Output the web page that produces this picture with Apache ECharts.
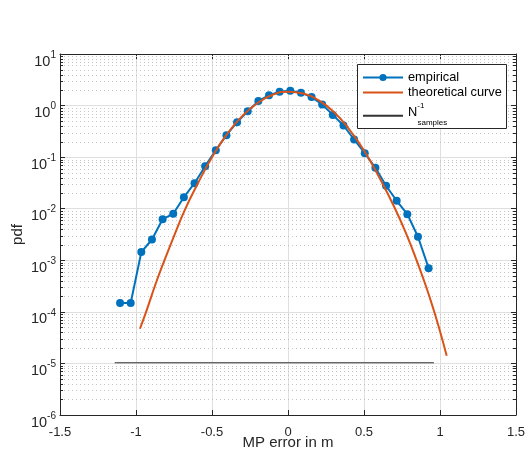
<!DOCTYPE html>
<html><head><meta charset="utf-8">
<script src="https://cdn.jsdelivr.net/npm/echarts@6/dist/echarts.min.js"></script>
<style>html,body{margin:0;padding:0;background:#fff}#c{width:527px;height:457px}</style>
</head><body><div id="c"></div>
<script>
// ---- data ----
const empX = [-1.105, -1.035, -0.965, -0.895, -0.825, -0.755, -0.685, -0.615, -0.545, -0.475,
              -0.405, -0.335, -0.265, -0.195, -0.125, -0.055, 0.015, 0.085, 0.155, 0.225,
              0.295, 0.365, 0.435, 0.505, 0.575, 0.645, 0.715, 0.785, 0.855, 0.925];
const empY = [1.48e-4, 1.48e-4, 1.44e-3, 2.53e-3, 6.27e-3, 7.97e-3, 0.0167, 0.0313, 0.0668, 0.136,
              0.267, 0.477, 0.778, 1.22, 1.59, 1.85, 1.94, 1.78, 1.46, 1.05,
              0.66, 0.411, 0.22, 0.119, 0.0622, 0.0279, 0.01426, 0.00783, 0.00286, 7.03e-4];
const theoX = [-0.974, -0.93, -0.87, -0.81, -0.75, -0.68, -0.6, -0.5, -0.4, -0.3, -0.2, -0.1, 0,
               0.1, 0.2, 0.3, 0.4, 0.5, 0.6, 0.7, 0.78, 0.85, 0.91, 0.96, 1.0, 1.044];
const theoY = [4.7e-5, 1.07e-4, 3.55e-4, 1.05e-3, 2.95e-3, 9.3e-3, 0.0282, 0.1, 0.282, 0.631, 1.12, 1.62, 1.86,
               1.72, 1.27, 0.759, 0.355, 0.135, 0.0407, 0.0107, 3.16e-3, 9.3e-4, 3.0e-4, 1.05e-4, 4.2e-5, 1.41e-5];
const nX = [-1.14, 0.96];
const nY = [1.03e-5, 1.03e-5];
const xTickLabels = ['-1.5', '-1', '-0.5', '0', '0.5', '1', '1.5'];
const yDecades = [-6, -5, -4, -3, -2, -1, 0];
const minorMult = [2, 3, 4, 5, 6, 7, 8, 9];

const minorVals = [];
yDecades.forEach(d => minorMult.forEach(m => minorVals.push(m * Math.pow(10, d))));

const FONT = "'Liberation Sans', Arial, Helvetica, sans-serif";
const AX = '#262626';
const zip = (a, b) => a.map((v, i) => [v, b[i]]);
const noSym = {color: 'rgba(0,0,0,0)', borderWidth: 0, opacity: 0};

const chart = echarts.init(document.getElementById('c'), null, {renderer: 'canvas'});
chart.setOption({
  animation: false,
  backgroundColor: '#fff',
  textStyle: {fontFamily: FONT},
  grid: {left: 60, top: 54, width: 456, height: 361, containLabel: false, outerBoundsMode: 'none'},
  graphic: [{
    type: 'rect', z: 90, silent: true,
    shape: {x: 357.5, y: 64.5, width: 149, height: 64},
    style: {fill: '#fff', stroke: AX, lineWidth: 1}
  }],
  legend: [{
    orient: 'vertical', left: 362, top: 70, padding: 0, z: 100,
    itemWidth: 40, itemHeight: 9, itemGap: 0,
    textStyle: {fontSize: 12.8, lineHeight: 15, color: '#000', fontFamily: FONT},
    data: ['empirical', {name: 'theoretical curve', itemStyle: noSym}]
  }, {
    orient: 'vertical', left: 362, top: 102, padding: 0, z: 100,
    itemWidth: 40, itemHeight: 9, itemGap: 0,
    textStyle: {fontSize: 12.8, color: '#000', fontFamily: FONT,
      rich: {
        n: {fontSize: 12.8, lineHeight: 12.4, fontFamily: FONT, color: '#000', verticalAlign: 'bottom'},
        sup: {fontSize: 8, fontFamily: FONT, color: '#000', verticalAlign: 'top', padding: [0, 0, 8.7, 0]},
        pad: {width: 9.5, fontSize: 8},
        sub: {fontSize: 8, lineHeight: 10.9, fontFamily: FONT, color: '#000', verticalAlign: 'top'}
      }},
    data: [{name: 'Nsamples', itemStyle: noSym}],
    formatter: () => '{n|N}{sup|-1}\n{pad| }{sub|samples}'
  }],
  xAxis: [{
    type: 'value', min: -1.5, max: 1.5, interval: 0.5, position: 'bottom',
    axisLine: {show: true, onZero: false, lineStyle: {color: AX, width: 1}},
    axisTick: {show: true, inside: true, length: 5, lineStyle: {color: AX}},
    axisLabel: {color: AX, fontSize: 13, margin: 11, fontFamily: FONT,
      formatter: v => xTickLabels[Math.round((v + 1.5) / 0.5)]},
    splitLine: {show: true, lineStyle: {color: '#dfdfdf', width: 1}},
    name: 'MP error in m', nameLocation: 'middle', nameGap: 20, nameMoveOverlap: false,
    nameTextStyle: {fontSize: 15, color: AX, fontFamily: FONT}
  }, {
    type: 'value', min: -1.5, max: 1.5, interval: 0.5, position: 'top',
    axisLine: {show: true, onZero: false, lineStyle: {color: AX, width: 1}},
    axisTick: {show: true, inside: true, length: 5, lineStyle: {color: AX}},
    axisLabel: {show: false}, splitLine: {show: false}
  }],
  yAxis: [{
    type: 'log', logBase: 10, min: 1e-6, max: 10, position: 'left',
    axisLine: {show: true, onZero: false, lineStyle: {color: AX, width: 1}},
    axisTick: {show: true, inside: true, length: 5, lineStyle: {color: AX}},
    splitLine: {show: true, lineStyle: {color: '#dfdfdf', width: 1}},
    axisLabel: {
      color: AX, margin: 4, fontFamily: FONT, padding: [11, 0, 0, 0],
      formatter: v => '{b|10}{e|' + Math.round(Math.log10(v)) + '}',
      rich: {
        b: {fontSize: 14.5, color: AX, fontFamily: FONT, verticalAlign: 'bottom'},
        e: {fontSize: 10, color: AX, fontFamily: FONT, verticalAlign: 'top', padding: [0, 0, 9, 0]}
      }
    },
    name: 'pdf', nameLocation: 'middle', nameGap: 35, nameMoveOverlap: false,
    nameTextStyle: {fontSize: 15, color: AX, fontFamily: FONT}
  }, {
    type: 'log', logBase: 10, min: 1e-6, max: 10, position: 'right',
    axisLine: {show: true, onZero: false, lineStyle: {color: AX, width: 1}},
    axisTick: {show: true, inside: true, length: 5, lineStyle: {color: AX}},
    axisLabel: {show: false}, splitLine: {show: false}
  }],
  series: [{
    type: 'custom', name: 'minorgrid', silent: true, z: 1, clip: false,
    data: minorVals.map(v => [0, v]), encode: {x: 0, y: 1},
    renderItem: (params, api) => {
      const cs = params.coordSys;
      const y = Math.round(api.coord([0, api.value(1)])[1]) + 0.5;
      return {type: 'group', children: [
        {type: 'line', shape: {x1: cs.x, y1: y, x2: cs.x + cs.width, y2: y},
          style: {stroke: '#c4c4c4', lineWidth: 1, lineDash: [1, 3]}},
        {type: 'line', shape: {x1: cs.x, y1: y, x2: cs.x + 3, y2: y}, style: {stroke: AX, lineWidth: 1}},
        {type: 'line', shape: {x1: cs.x + cs.width, y1: y, x2: cs.x + cs.width - 3, y2: y}, style: {stroke: AX, lineWidth: 1}}
      ]};
    }
  }, {
    type: 'line', name: 'empirical', data: zip(empX, empY), z: 3,
    color: '#0072BD', symbol: 'circle', symbolSize: 8, showSymbol: true,
    lineStyle: {width: 2, color: '#0072BD'}, itemStyle: {color: '#0072BD'}
  }, {
    type: 'line', name: 'theoretical curve', data: zip(theoX, theoY), z: 4,
    color: '#D95319', smooth: true, symbol: 'none', showSymbol: false,
    lineStyle: {width: 2, color: '#D95319'}
  }, {
    type: 'line', name: 'Nsamples', data: zip(nX, nY), z: 3,
    color: '#333333', symbol: 'none', showSymbol: false,
    lineStyle: {width: 1, color: '#333333'}
  }]
});
</script></body></html>
